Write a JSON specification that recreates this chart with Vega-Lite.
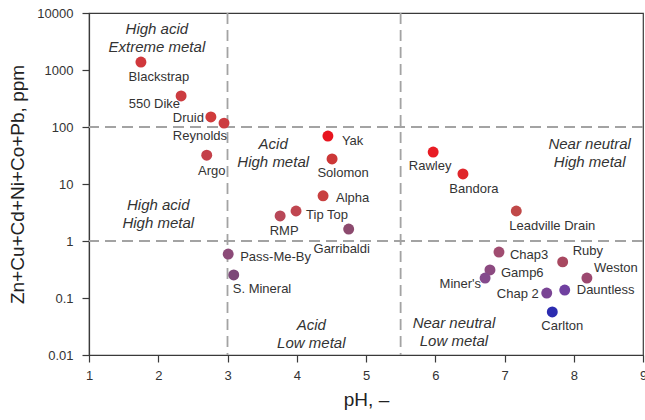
{
  "$schema": "https://vega.github.io/schema/vega-lite/v6.json",
  "width": 554,
  "height": 342,
  "autosize": {"type": "none"},
  "padding": {"left": 89, "top": 13, "right": 2, "bottom": 65},
  "background": "white",
  "config": {
    "font": "Liberation Sans",
    "view": {"stroke": "#3a3a3a", "strokeWidth": 1.2},
    "axis": {
      "domainColor": "#3a3a3a", "domainWidth": 1.2, "tickColor": "#3a3a3a", "tickWidth": 1.2, "tickSize": 7,
      "labelFont": "Liberation Sans", "labelFontSize": 13, "labelColor": "#333333",
      "titleFont": "Liberation Sans", "titleFontSize": 19, "titleFontWeight": "normal", "titleColor": "#222222",
      "grid": false
    },
    "text": {"font": "Liberation Sans", "fontSize": 13, "color": "#333333", "baseline": "middle"}
  },
  "datasets": {
    "samples": [
      {"name": "Blackstrap", "pH": 1.75, "metal": 1380},
      {"name": "550 Dike", "pH": 2.33, "metal": 350},
      {"name": "Druid", "pH": 2.76, "metal": 150},
      {"name": "Reynolds", "pH": 2.95, "metal": 117},
      {"name": "Argo", "pH": 2.70, "metal": 32},
      {"name": "Yak", "pH": 4.45, "metal": 69.5},
      {"name": "Solomon", "pH": 4.51, "metal": 27.5},
      {"name": "Alpha", "pH": 4.38, "metal": 6.2},
      {"name": "Tip Top", "pH": 3.99, "metal": 3.36},
      {"name": "RMP", "pH": 3.76, "metal": 2.75},
      {"name": "Garribaldi", "pH": 4.75, "metal": 1.62},
      {"name": "Pass-Me-By", "pH": 3.01, "metal": 0.59},
      {"name": "S. Mineral", "pH": 3.09, "metal": 0.254},
      {"name": "Rawley", "pH": 5.97, "metal": 36.4},
      {"name": "Bandora", "pH": 6.40, "metal": 15.0},
      {"name": "Leadville Drain", "pH": 7.17, "metal": 3.36},
      {"name": "Chap3", "pH": 6.92, "metal": 0.64},
      {"name": "Gamp6", "pH": 6.79, "metal": 0.31},
      {"name": "Miner's", "pH": 6.72, "metal": 0.224},
      {"name": "Ruby", "pH": 7.84, "metal": 0.43},
      {"name": "Weston", "pH": 8.19, "metal": 0.224},
      {"name": "Chap 2", "pH": 7.61, "metal": 0.122},
      {"name": "Dauntless", "pH": 7.87, "metal": 0.138},
      {"name": "Carlton", "pH": 7.69, "metal": 0.057}
    ],
    "regions": [
      {"label": "High acid\nExtreme metal", "pH": 1.98, "metal": 3640},
      {"label": "Acid\nHigh metal", "pH": 3.66, "metal": 34.3},
      {"label": "High acid\nHigh metal", "pH": 2.0, "metal": 2.98},
      {"label": "Acid\nLow metal", "pH": 4.21, "metal": 0.0233},
      {"label": "Near neutral\nHigh metal", "pH": 8.23, "metal": 34.3},
      {"label": "Near neutral\nLow metal", "pH": 6.27, "metal": 0.0253}
    ],
    "one": [{}]
  },
  "layer": [
    {"data": {"name": "one"}, "mark": {"type": "rule", "stroke": "#a3a3a3", "strokeWidth": 1.8, "strokeDash": [11, 6]}, "encoding": {"y": {"datum": 100, "type": "quantitative"}}},
    {"data": {"name": "one"}, "mark": {"type": "rule", "stroke": "#a3a3a3", "strokeWidth": 1.8, "strokeDash": [11, 6]}, "encoding": {"y": {"datum": 1, "type": "quantitative"}}},
    {"data": {"name": "one"}, "mark": {"type": "rule", "stroke": "#a3a3a3", "strokeWidth": 1.8, "strokeDash": [11, 6]}, "encoding": {"x": {"datum": 3, "type": "quantitative"}}},
    {"data": {"name": "one"}, "mark": {"type": "rule", "stroke": "#a3a3a3", "strokeWidth": 1.8, "strokeDash": [11, 6]}, "encoding": {"x": {"datum": 5.5, "type": "quantitative"}}},
    {
      "data": {"name": "samples"},
      "encoding": {
        "x": {"field": "pH", "type": "quantitative", "title": "pH, –",
              "scale": {"domain": [1, 9], "nice": false, "zero": false},
              "axis": {"values": [1, 2, 3, 4, 5, 6, 7, 8, 9], "format": "d", "labelPadding": 7, "titlePadding": 8, "labelFlush": false}},
        "y": {"field": "metal", "type": "quantitative", "title": "Zn+Cu+Cd+Ni+Co+Pb, ppm",
              "scale": {"type": "log", "domain": [0.01, 10000], "nice": false},
              "axis": {"values": [0.01, 0.1, 1, 10, 100, 1000, 10000], "format": "~g", "labelPadding": 9, "titlePadding": 9, "labelFlush": false}}
      },
      "layer": [
        {"mark": {"type": "point", "filled": true, "opacity": 1, "size": 120},
         "encoding": {"color": {"field": "name", "type": "nominal", "legend": null,
           "scale": {
             "domain": ["Blackstrap", "550 Dike", "Druid", "Reynolds", "Argo", "Yak", "Solomon", "Alpha", "Tip Top", "RMP", "Garribaldi", "Pass-Me-By", "S. Mineral", "Rawley", "Bandora", "Leadville Drain", "Chap3", "Gamp6", "Miner's", "Ruby", "Weston", "Chap 2", "Dauntless", "Carlton"],
             "range": ["#d0383c", "#cc3c40", "#d03c3c", "#cc3c40", "#c4404a", "#e8141e", "#cc3838", "#c84040", "#c04650", "#b84858", "#8c4a6e", "#8c4a78", "#7c4878", "#e81c24", "#e0262b", "#c04848", "#a04c70", "#8c4a80", "#844a8c", "#a84860", "#9c4870", "#7a4494", "#7040a0", "#2c2cb0"]
           }}}},
        {"transform": [{"filter": "datum.name == 'Blackstrap'"}], "mark": {"type": "text", "align": "center", "dx": 18, "dy": 15}, "encoding": {"text": {"field": "name"}}},
        {"transform": [{"filter": "datum.name == 'Argo'"}], "mark": {"type": "text", "align": "center", "dx": 5, "dy": 16}, "encoding": {"text": {"field": "name"}}},
        {"transform": [{"filter": "datum.name == 'Solomon'"}], "mark": {"type": "text", "align": "center", "dx": 11, "dy": 14}, "encoding": {"text": {"field": "name"}}},
        {"transform": [{"filter": "datum.name == 'RMP'"}], "mark": {"type": "text", "align": "center", "dx": 4, "dy": 15}, "encoding": {"text": {"field": "name"}}},
        {"transform": [{"filter": "datum.name == 'Garribaldi'"}], "mark": {"type": "text", "align": "center", "dx": -7, "dy": 20}, "encoding": {"text": {"field": "name"}}},
        {"transform": [{"filter": "datum.name == 'Rawley'"}], "mark": {"type": "text", "align": "center", "dx": -3, "dy": 14}, "encoding": {"text": {"field": "name"}}},
        {"transform": [{"filter": "datum.name == 'Bandora'"}], "mark": {"type": "text", "align": "center", "dx": 11, "dy": 15}, "encoding": {"text": {"field": "name"}}},
        {"transform": [{"filter": "datum.name == 'Leadville Drain'"}], "mark": {"type": "text", "align": "center", "dx": 36, "dy": 15}, "encoding": {"text": {"field": "name"}}},
        {"transform": [{"filter": "datum.name == 'Carlton'"}], "mark": {"type": "text", "align": "center", "dx": 10, "dy": 14}, "encoding": {"text": {"field": "name"}}},
        {"transform": [{"filter": "datum.name == '550 Dike'"}], "mark": {"type": "text", "align": "right", "dx": -1, "dy": 8}, "encoding": {"text": {"field": "name"}}},
        {"transform": [{"filter": "datum.name == 'Druid'"}], "mark": {"type": "text", "align": "right", "dx": -7, "dy": 1}, "encoding": {"text": {"field": "name"}}},
        {"transform": [{"filter": "datum.name == 'Reynolds'"}], "mark": {"type": "text", "align": "right", "dx": 3, "dy": 13}, "encoding": {"text": {"field": "name"}}},
        {"transform": [{"filter": "datum.name == \"Miner's\""}], "mark": {"type": "text", "align": "right", "dx": -4, "dy": 6}, "encoding": {"text": {"field": "name"}}},
        {"transform": [{"filter": "datum.name == 'Chap 2'"}], "mark": {"type": "text", "align": "right", "dx": -8, "dy": 1}, "encoding": {"text": {"field": "name"}}},
        {"transform": [{"filter": "datum.name == 'Yak'"}], "mark": {"type": "text", "align": "left", "dx": 14, "dy": 5}, "encoding": {"text": {"field": "name"}}},
        {"transform": [{"filter": "datum.name == 'Alpha'"}], "mark": {"type": "text", "align": "left", "dx": 13, "dy": 2}, "encoding": {"text": {"field": "name"}}},
        {"transform": [{"filter": "datum.name == 'Tip Top'"}], "mark": {"type": "text", "align": "left", "dx": 10, "dy": 4}, "encoding": {"text": {"field": "name"}}},
        {"transform": [{"filter": "datum.name == 'Pass-Me-By'"}], "mark": {"type": "text", "align": "left", "dx": 12, "dy": 3}, "encoding": {"text": {"field": "name"}}},
        {"transform": [{"filter": "datum.name == 'S. Mineral'"}], "mark": {"type": "text", "align": "left", "dx": -1, "dy": 14}, "encoding": {"text": {"field": "name"}}},
        {"transform": [{"filter": "datum.name == 'Chap3'"}], "mark": {"type": "text", "align": "left", "dx": 11, "dy": 3}, "encoding": {"text": {"field": "name"}}},
        {"transform": [{"filter": "datum.name == 'Gamp6'"}], "mark": {"type": "text", "align": "left", "dx": 11, "dy": 3}, "encoding": {"text": {"field": "name"}}},
        {"transform": [{"filter": "datum.name == 'Ruby'"}], "mark": {"type": "text", "align": "left", "dx": 10, "dy": -11}, "encoding": {"text": {"field": "name"}}},
        {"transform": [{"filter": "datum.name == 'Weston'"}], "mark": {"type": "text", "align": "left", "dx": 7, "dy": -10}, "encoding": {"text": {"field": "name"}}},
        {"transform": [{"filter": "datum.name == 'Dauntless'"}], "mark": {"type": "text", "align": "left", "dx": 12, "dy": 0}, "encoding": {"text": {"field": "name"}}}
      ]
    },
    {
      "data": {"name": "regions"},
      "mark": {"type": "text", "fontStyle": "italic", "fontSize": 15, "lineBreak": "\n", "lineHeight": 18, "align": "center", "baseline": "middle", "dy": -9, "color": "#333333"},
      "encoding": {
        "x": {"field": "pH", "type": "quantitative", "title": "pH, –"},
        "y": {"field": "metal", "type": "quantitative", "title": "Zn+Cu+Cd+Ni+Co+Pb, ppm"},
        "text": {"field": "label"}
      }
    }
  ]
}
